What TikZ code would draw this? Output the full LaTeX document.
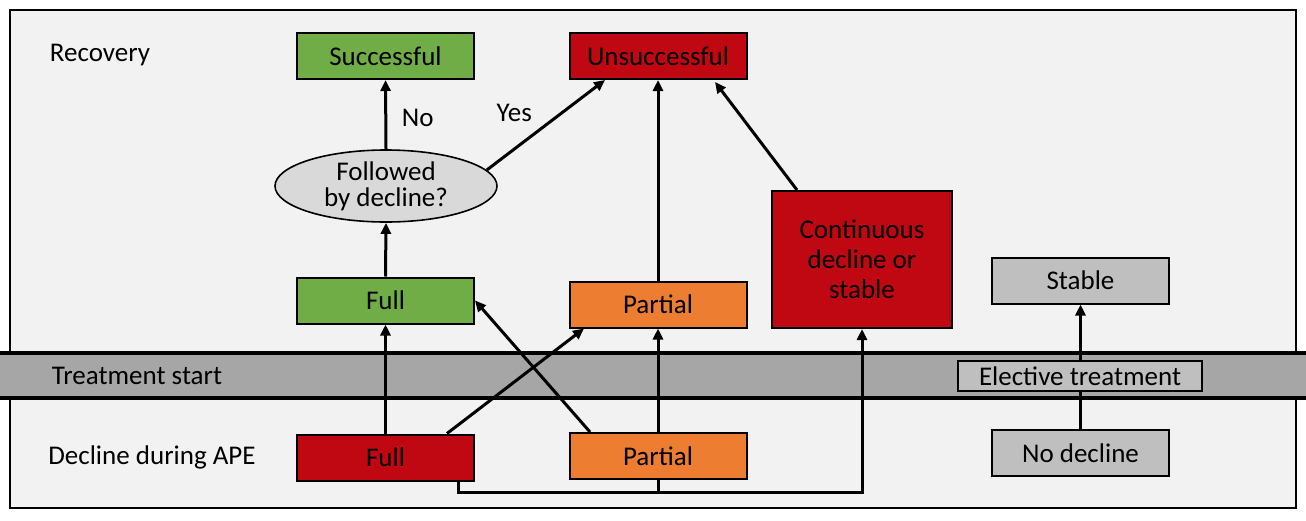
\documentclass[tikz,border=0pt]{standalone}
\usepackage{fontspec}
\setmainfont{Carlito}
\usepackage{xcolor}
\usetikzlibrary{positioning,arrows.meta,shapes.geometric,calc}

\definecolor{bggray}{HTML}{F2F2F2}
\definecolor{bandgray}{HTML}{A6A6A6}
\definecolor{boxgray}{HTML}{BFBFBF}
\definecolor{ellgray}{HTML}{D9D9D9}
\definecolor{okgreen}{HTML}{70AD47}
\definecolor{badred}{HTML}{C00812}
\definecolor{midorange}{HTML}{ED7D31}

\begin{document}
\begin{tikzpicture}[
    x=0.5pt, y=-0.5pt,
    font=\fontsize{13.5}{15}\selectfont,
    box/.style={draw, line width=1pt, fill=#1, minimum width=88.5pt, minimum height=23pt, inner sep=0pt},
    box/.default=boxgray,
    arr/.style={line width=1.5pt, -{Triangle[length=5.5pt,width=5pt]}},
    line/.style={line width=1.5pt},
  ]
  \useasboundingbox (0,0) rectangle (1306,520);

  % Frame and treatment band
  \draw[line width=0.8pt, fill=bggray] (10,10) rectangle (1296,508);
  \fill[bandgray] (0,353) rectangle (1306,398);
  \draw[line width=2pt] (0,353) -- (1306,353);
  \draw[line width=2pt] (0,398) -- (1306,398);

  % Row labels
  \node (recovery) at (100,55)  {Recovery};
  \node (tstart)   at (137,376) {Treatment start};
  \node (apedecl)  at (152,457) {Decline during APE};

  % Outcome boxes
  \node[box=okgreen] (succ)   at (385.5,56) {Successful};
  \node[box=badred]  (unsucc) at (658,56)   {Unsuccessful};
  \node[ellipse, draw, line width=0.8pt, fill=ellgray, minimum width=111pt, minimum height=36pt,
        inner sep=0pt, align=center] (follow) at (386,186) {Followed\\[-2pt]by decline?};

  % Recovery boxes
  \node[box=okgreen]   (fullrec) at (385.5,300.5) {Full};
  \node[box=midorange] (partrec) at (658,304.5)   {Partial};
  \node[box=badred, minimum width=90pt, minimum height=68.5pt, align=center]
        (cont) at (862,259.5) {Continuous\\decline or\\stable};
  \node[box] (stable) at (1080.5,280.5) {Stable};

  % Decline boxes
  \node[box=badred]    (fulldec) at (385.5,457.5) {Full};
  \node[box=midorange] (partdec) at (658,456)     {Partial};
  \node[box]           (nodecl)  at (1080.5,453)  {No decline};

  % Connectors
  \draw[arr] (fulldec.north) -- (fullrec.south);
  \draw[arr] ([xshift=30.75pt]fulldec.north) -- ([xshift=-37pt]partrec.south);
  \draw[arr] ([xshift=-34pt]partdec.north) -- (fullrec.east);
  \draw[arr] (partdec.north) -- (partrec.south);
  \draw[arr] (partrec.north) -- (unsucc.south);
  \draw[arr] (fullrec.north) -- (follow.south);
  \draw[arr] (follow.north) -- node[right=4pt, pos=0.45] (no) {No} (succ.south);
  \draw[arr] (follow.9) -- node[above left=0pt, pos=0.45] (yes) {Yes} ([xshift=-26.5pt]unsucc.south);
  \draw[arr] ([xshift=-32.5pt]cont.north) -- ([xshift=28.5pt,yshift=-1pt]unsucc.south);

  % Bus from the bottom row to the continuous decline box
  \coordinate (bus) at (660,492);
  \draw[arr] ([xshift=36.25pt]fulldec.south) |- (bus) -| (cont.south);
  \draw[line] (partdec.south) -- (partdec.south |- bus);

  % Elective treatment path
  \draw[arr] (nodecl.north) -- (stable.south);
  \node[box, minimum width=122pt, minimum height=15pt] (elective) at (1080,376) {Elective treatment};
\end{tikzpicture}
\end{document}
